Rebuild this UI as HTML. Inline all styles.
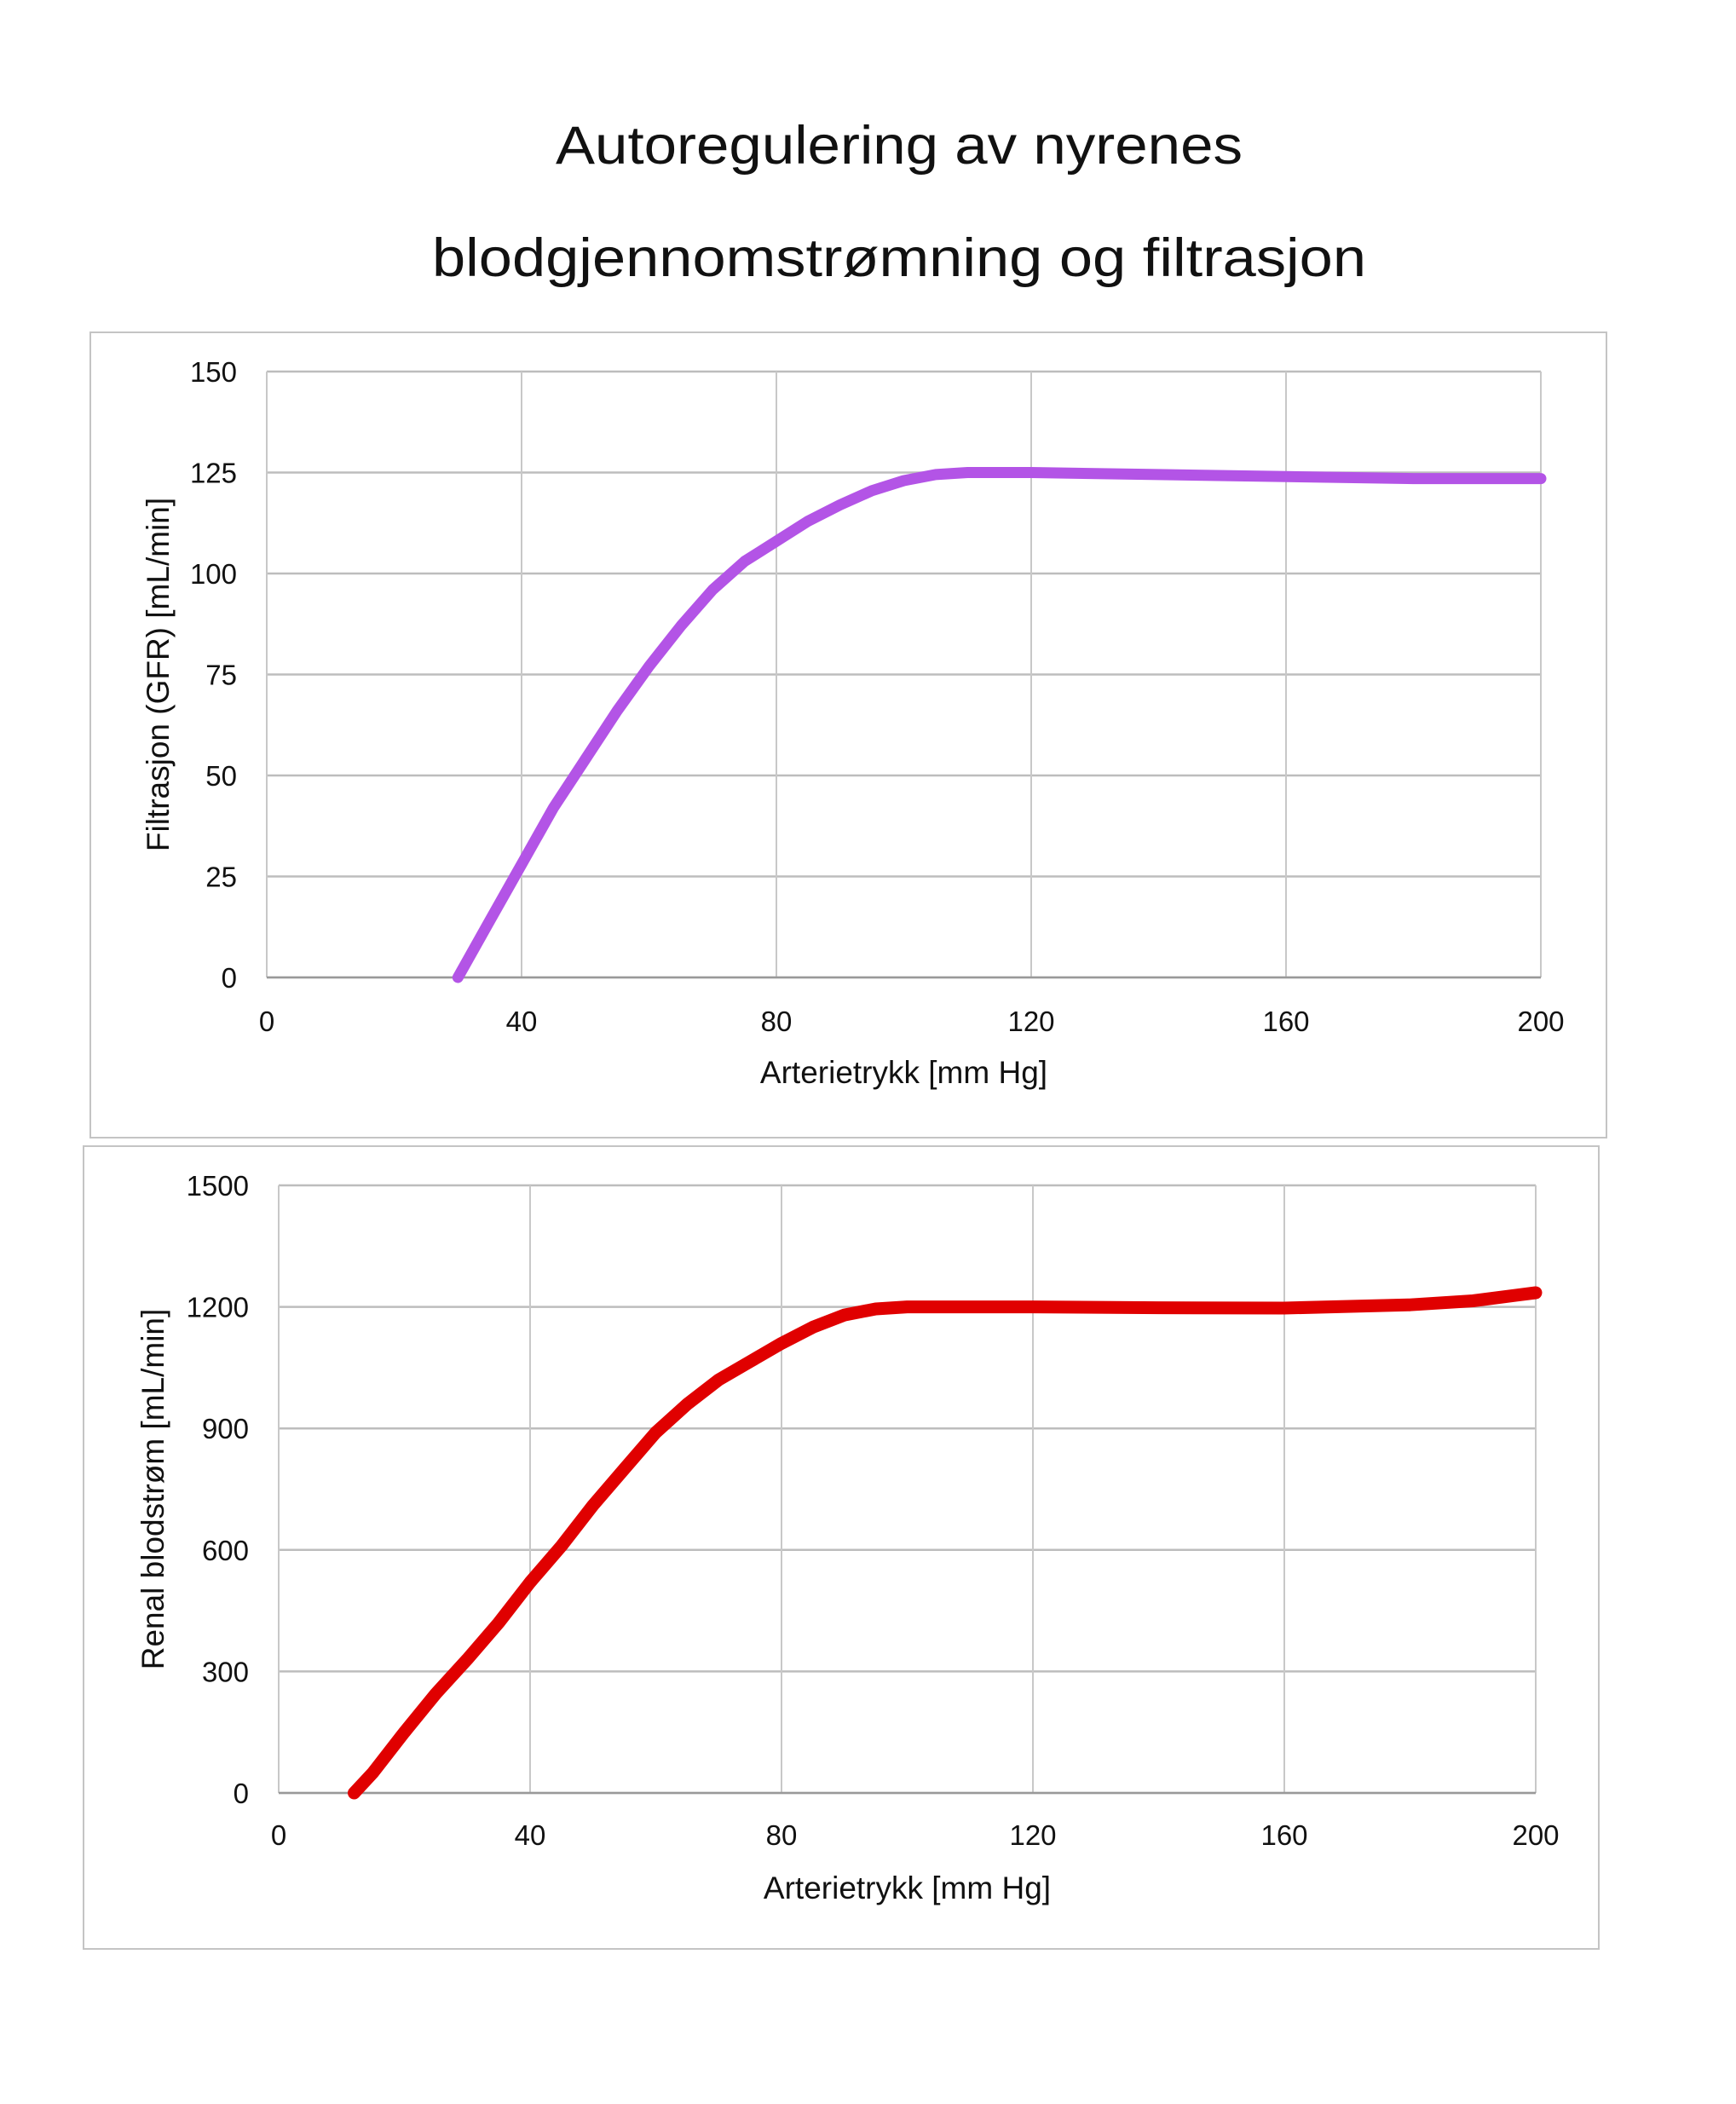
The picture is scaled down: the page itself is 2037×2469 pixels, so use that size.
<!DOCTYPE html>
<html><head><meta charset="utf-8"><style>
html,body{margin:0;padding:0;background:#fff}
svg{display:block}
text{font-family:"Liberation Sans",sans-serif;fill:#111}
</style></head><body>
<svg id="s" width="2037" height="2469" viewBox="0 0 2037 2469" xmlns="http://www.w3.org/2000/svg">
<text x="1055" y="192" font-size="63" text-anchor="middle" textLength="806" lengthAdjust="spacingAndGlyphs">Autoregulering av nyrenes</text>
<text x="1055" y="324" font-size="63" text-anchor="middle" textLength="1096" lengthAdjust="spacingAndGlyphs">blodgjennomstrømning og filtrasjon</text>
<g id="c1"></g>
<g id="c2"></g>
</svg>
<script>
const xTicks=[0,40,80,120,160,200];
const gfrTicks=[0,25,50,75,100,125,150];
const rbfTicks=[0,300,600,900,1200,1500];
const gfrX=[30,35,40,45,50,55,60,65,70,75,80,85,90,95,100,105,110,120,140,160,180,200];
const gfrY=[0,14,28,42,54,66,77,87,96,103,108,113,117,120.5,123,124.5,125,125,124.5,124,123.5,123.5];
const rbfX=[12,15,20,25,30,35,40,45,50,55,60,65,70,75,80,85,90,95,100,120,140,160,180,190,200];
const rbfY=[0,50,150,245,330,420,520,610,710,800,890,960,1020,1065,1110,1150,1180,1195,1200,1200,1198,1197,1205,1215,1235];
const NS="http://www.w3.org/2000/svg";
function mk(p,tag,at){const e=document.createElementNS(NS,tag);for(const k in at)e.setAttribute(k,at[k]);p.appendChild(e);return e;}
function chart(g,cfg){
  const box=mk(g,'rect',{x:cfg.bx,y:cfg.by,width:cfg.bw,height:cfg.bh,fill:'none',stroke:'#c4c4c4','stroke-width':2});
  
  
  const sx=v=>cfg.x0+(v-0)/200*(cfg.x1-cfg.x0);
  const ymax=cfg.yt[cfg.yt.length-1];
  const sy=v=>cfg.y0-(v/ymax)*(cfg.y0-cfg.y1);
  cfg.yt.forEach(t=>{
    const l=mk(g,'line',{x1:cfg.x0,x2:cfg.x1,y1:sy(t),y2:sy(t),stroke:'#bdbdbd','stroke-width':2.5});
    
    
    const tx=mk(g,'text',{x:cfg.lx,y:sy(t)+12,'font-size':33,'text-anchor':'end'});tx.textContent=t;
    
    
  });
  xTicks.forEach(t=>{
    const l=mk(g,'line',{x1:sx(t),x2:sx(t),y1:cfg.y0,y2:cfg.y1,stroke:'#c8c8c8','stroke-width':2});
    
    
    const tx=mk(g,'text',{x:sx(t),y:cfg.xly,'font-size':33,'text-anchor':'middle'});tx.textContent=t;
    
    
  });
  const ax=mk(g,'line',{x1:cfg.x0,x2:cfg.x1,y1:cfg.y0,y2:cfg.y0,stroke:'#999','stroke-width':2.5});
  
  
  const xt=mk(g,'text',{x:(cfg.x0+cfg.x1)/2,y:cfg.xty,'font-size':37,'text-anchor':'middle'});xt.textContent='Arterietrykk [mm Hg]';
  
  
  const cy=(cfg.y0+cfg.y1)/2;
  const yt=mk(g,'text',{x:cfg.ytx,y:cy,'font-size':37,'text-anchor':'middle',transform:`rotate(-90 ${cfg.ytx} ${cy})`});yt.textContent=cfg.ytitle;
  
  
  const pts=cfg.xs.map((x,i)=>sx(x).toFixed(1)+','+sy(cfg.ys[i]).toFixed(1)).join(' ');
  const pl=mk(g,'polyline',{points:pts,fill:'none',stroke:cfg.color,'stroke-width':cfg.sw,'stroke-linejoin':'round','stroke-linecap':'round'});
  
  
}
chart(document.getElementById('c1'),{bx:106,by:390,bw:1779,bh:945,x0:313,x1:1808,y0:1147,y1:436,yt:gfrTicks,lx:278,xly:1210,xty:1271,ytx:198,ytitle:'Filtrasjon (GFR) [mL/min]',xs:gfrX,ys:gfrY,color:'#b354e6',sw:13});
chart(document.getElementById('c2'),{bx:98,by:1345,bw:1778,bh:942,x0:327,x1:1802,y0:2104,y1:1391,yt:rbfTicks,lx:292,xly:2165,xty:2228,ytx:192,ytitle:'Renal blodstrøm [mL/min]',xs:rbfX,ys:rbfY,color:'#e00000',sw:15});
</script>
</body></html>
